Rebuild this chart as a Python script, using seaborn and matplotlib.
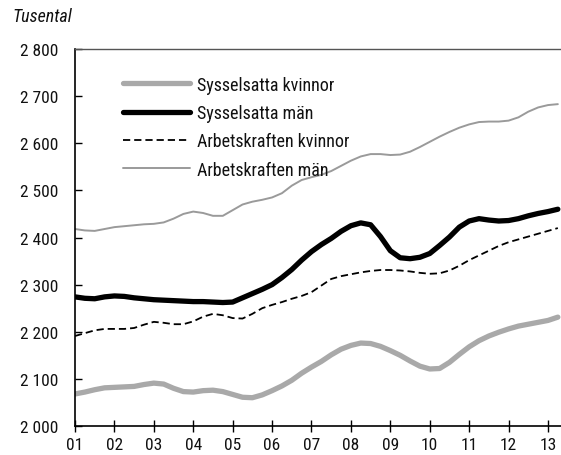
import matplotlib
matplotlib.use("Agg")
import matplotlib.pyplot as plt
import seaborn as sns
import numpy as np
from matplotlib import font_manager

# Quarterly data 2001Q1 .. 2013Q2 (thousands)
sysselsatta_kvinnor = [2068, 2072, 2077, 2081, 2082, 2083, 2084, 2088, 2091, 2089,
                       2080, 2073, 2072, 2075, 2076, 2073, 2067, 2061, 2060, 2066,
                       2075, 2085, 2097, 2112, 2125, 2137, 2151, 2163, 2171, 2176,
                       2175, 2169, 2160, 2150, 2138, 2127, 2121, 2122, 2135, 2152,
                       2168, 2181, 2191, 2199, 2206, 2212, 2216, 2220, 2224, 2231]
sysselsatta_man = [2274, 2271, 2270, 2274, 2276, 2275, 2272, 2270, 2268, 2267,
                   2266, 2265, 2264, 2264, 2263, 2262, 2263, 2272, 2281, 2290,
                   2300, 2315, 2332, 2352, 2370, 2385, 2398, 2413, 2425, 2431,
                   2427, 2402, 2372, 2357, 2355, 2358, 2366, 2383, 2401, 2422,
                   2435, 2440, 2437, 2435, 2436, 2440, 2446, 2451, 2455, 2460]
arbetskraften_kvinnor = [2191, 2197, 2203, 2206, 2206, 2206, 2208, 2215, 2221, 2219,
                         2216, 2216, 2222, 2232, 2238, 2235, 2229, 2228, 2238, 2250,
                         2257, 2263, 2270, 2276, 2284, 2298, 2312, 2318, 2322, 2326,
                         2329, 2331, 2331, 2330, 2328, 2325, 2323, 2324, 2330, 2340,
                         2352, 2362, 2372, 2382, 2390, 2396, 2402, 2408, 2414, 2420]
arbetskraften_man = [2418, 2415, 2414, 2418, 2422, 2424, 2426, 2428, 2429, 2432,
                     2440, 2450, 2455, 2452, 2446, 2446, 2458, 2470, 2476, 2480,
                     2485, 2494, 2510, 2522, 2528, 2533, 2541, 2552, 2563, 2572,
                     2577, 2577, 2575, 2576, 2582, 2592, 2603, 2614, 2624, 2633,
                     2640, 2645, 2646, 2646, 2648, 2655, 2667, 2676, 2681, 2683]

labels = ["Sysselsatta kvinnor", "Sysselsatta män", "Arbetskraften kvinnor", "Arbetskraften män"]
year_ticks = ["01", "02", "03", "04", "05", "06", "07", "08", "09", "10", "11", "12", "13"]
y_ticks = [2000, 2100, 2200, 2300, 2400, 2500, 2600, 2700, 2800]

sns.set_theme(style="white")

# pick a condensed font if one is installed
entries = font_manager.fontManager.ttflist
names = {f.name for f in entries}
fam = None
stretch = "normal"
for cand in ["Liberation Sans Narrow", "Roboto Condensed", "Open Sans Condensed",
             "DejaVu Sans Condensed", "Noto Sans Condensed"]:
    if cand in names:
        fam = cand
        break
if fam is None:
    cond = [f for f in entries if f.name == "DejaVu Sans" and
            str(f.stretch) in ("condensed", "semi-condensed", "575", "600", "500")]
    if cond:
        fam = "DejaVu Sans"
        stretch = "condensed"
    elif "Roboto" in names:
        fam = "Roboto"
    else:
        fam = "DejaVu Sans"
plt.rcParams["font.family"] = [fam, "DejaVu Sans"]
plt.rcParams["font.stretch"] = stretch
fs = 12.5
fs_leg = 13

n = len(sysselsatta_kvinnor)
x = 1 + np.arange(n) / 4.0

fig = plt.figure(figsize=(5.61, 4.56), dpi=100)
ax = fig.add_axes([75 / 561, 29 / 456, 486 / 561, 377 / 456])

styles = [
    dict(color="#a9a9a9", lw=3.8, ls="-"),
    dict(color="#000000", lw=3.8, ls="-"),
    dict(color="#000000", lw=1.3, ls=(0, (4, 2.2))),
    dict(color="#9a9a9a", lw=1.4, ls="-"),
]
series = [sysselsatta_kvinnor, sysselsatta_man, arbetskraften_kvinnor, arbetskraften_man]
for lab, vals, st in zip(labels, series, styles):
    sns.lineplot(x=x, y=vals, ax=ax, label=lab, color=st["color"], linewidth=st["lw"],
                 linestyle=st["ls"], solid_capstyle="round")

ax.set_xlim(1, 13.33)
ax.set_ylim(2000, 2800)
ax.set_xticks(range(1, 14))
ax.set_xticklabels(year_ticks)
ax.set_yticks(y_ticks)
ax.set_yticklabels([f"{v // 1000} {v % 1000:03d}" for v in y_ticks])
ax.tick_params(axis="x", direction="inout", length=8, width=1, colors="black",
               labelsize=fs, pad=4, bottom=True)
ax.tick_params(axis="y", direction="in", length=5, width=1, colors="black",
               labelsize=fs, pad=12, left=True)
for lbl in ax.get_xticklabels() + ax.get_yticklabels():
    lbl.set_color("#111111")
for s in ["left", "bottom"]:
    ax.spines[s].set_color("black")
    ax.spines[s].set_linewidth(1.2)
ax.spines["top"].set_color("#555555")
ax.spines["top"].set_linewidth(1.0)
ax.spines["right"].set_visible(False)
ax.grid(False)

leg = ax.legend(loc="upper left", bbox_to_anchor=(0.066, 0.972), frameon=False,
                handlelength=3.7, handletextpad=0.4, labelspacing=0.57, fontsize=fs_leg)
for t in leg.get_texts():
    t.set_color("#111111")

fig.text(12 / 561, 1 - 17 / 456, "Tusental", fontsize=fs_leg, style="italic",
         va="center", ha="left", color="#111111")

fig.savefig("out.png", dpi=100)
